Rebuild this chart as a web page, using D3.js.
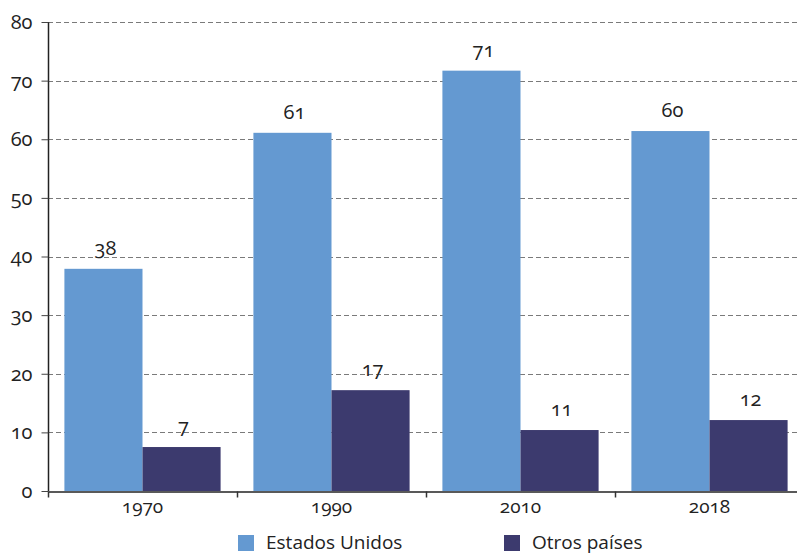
<!DOCTYPE html>
<html>
<head>
<meta charset="utf-8">
<script src="https://cdn.jsdelivr.net/npm/d3@7"></script>
<style>
  html, body { margin: 0; padding: 0; background: #fff; }
  svg text { font-family: "Open Sans", Lato, sans-serif; font-variant-numeric: oldstyle-nums; font-feature-settings: "onum" 1; fill: #222; }
</style>
</head>
<body>
<svg id="chart" width="797" height="554"></svg>
<script>
const categories = ["1970", "1990", "2010", "2018"];
const seriesNames = ["Estados Unidos", "Otros países"];
const estadosUnidos = [37.9, 61.1, 71.7, 61.4];
const otrosPaises = [7.5, 17.2, 10.4, 12.1];
const labelsEstadosUnidos = ["38", "61", "71", "60"];
const labelsOtrosPaises = ["7", "17", "11", "12"];
const yTicks = [0, 10, 20, 30, 40, 50, 60, 70, 80];
const colors = ["#6499D1", "#3C3A6E"];

const svg = d3.select("#chart");
const mLeft = 48, mBottom = 491, mTop = 22, step = 189;

const x = d3.scaleBand().domain(categories).range([mLeft, mLeft + step * categories.length]).paddingInner(0).paddingOuter(0);
const inner = d3.scaleBand().domain(seriesNames).range([0, x.bandwidth()]).paddingInner(0).paddingOuter(0.21);
const y = d3.scaleLinear().domain([0, 80]).range([mBottom, mTop]);

// gridlines
svg.append("g").selectAll("line").data(yTicks.filter(d => d > 0)).join("line")
  .attr("x1", mLeft).attr("x2", 797)
  .attr("y1", d => Math.round(y(d)) + 0.5).attr("y2", d => Math.round(y(d)) + 0.5)
  .attr("stroke", "#7a7a7a").attr("stroke-width", 1).attr("stroke-dasharray", "5,3");

// bars
const series = [estadosUnidos, otrosPaises];
const labels = [labelsEstadosUnidos, labelsOtrosPaises];
series.forEach((vals, si) => {
  const g = svg.append("g");
  g.selectAll("rect").data(categories).join("rect")
    .attr("x", c => x(c) + inner(seriesNames[si]))
    .attr("width", inner.bandwidth())
    .attr("y", (c, i) => y(vals[i]))
    .attr("height", (c, i) => mBottom - y(vals[i]))
    .attr("fill", colors[si]);
  g.selectAll("text").data(categories).join("text")
    .attr("x", c => x(c) + inner(seriesNames[si]) + inner.bandwidth() / 2 + 2)
    .attr("y", (c, i) => y(vals[i]) - 14)
    .attr("text-anchor", "middle")
    .attr("font-size", 20)
    .text((c, i) => labels[si][i]);
});

// y axis
const yAxis = d3.axisLeft(y).tickValues(yTicks).tickSize(7).tickPadding(9);
const ya = svg.append("g").attr("transform", `translate(${mLeft + 0.5},0)`).call(yAxis);
ya.select(".domain").attr("stroke", "#222").attr("stroke-width", 1.5).attr("d", `M0,${mTop}V${mBottom}`);
ya.selectAll(".tick line").attr("stroke", "#444");
ya.selectAll(".tick text").attr("font-size", 20).attr("font-family", null);

// x axis
const xa = svg.append("g").attr("transform", `translate(0,${mBottom + 0.5})`)
  .call(d3.axisBottom(x).tickSize(0).tickPadding(8));
xa.select(".domain").attr("stroke", "#222").attr("stroke-width", 1.5);
xa.selectAll(".tick text").attr("font-size", 19).attr("font-family", null);
// band boundary ticks
const edges = categories.map(c => x(c)).concat([x.range()[1]]);
xa.append("g").selectAll("line").data(edges).join("line")
  .attr("x1", d => Math.round(d) + 0.5).attr("x2", d => Math.round(d) + 0.5)
  .attr("y1", 0).attr("y2", 6).attr("stroke", "#333").attr("stroke-width", 1.5);

// legend
const legendX = [238, 504];
const lg = svg.append("g");
seriesNames.forEach((name, i) => {
  lg.append("rect").attr("x", legendX[i]).attr("y", 535).attr("width", 16).attr("height", 16).attr("fill", colors[i]);
  lg.append("text").attr("x", legendX[i] + 28).attr("y", 549).attr("font-size", 19).text(name);
});
</script>
</body>
</html>
